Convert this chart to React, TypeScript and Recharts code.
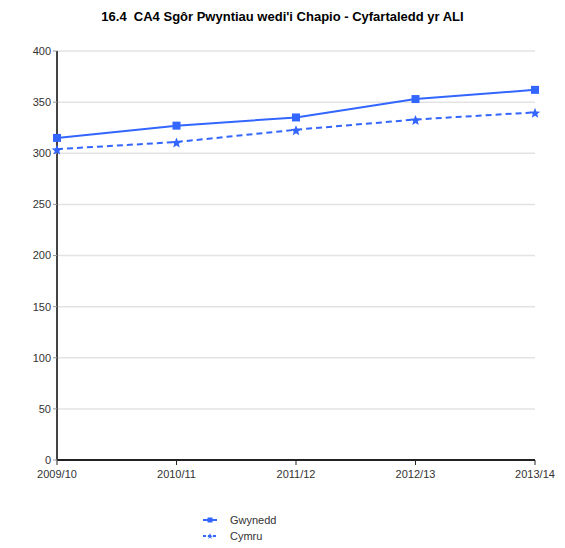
import { CartesianGrid, Legend, Line, LineChart, XAxis, YAxis } from "recharts";

const years = ["2009/10", "2010/11", "2011/12", "2012/13", "2013/14"];
const gwynedd = [315, 327, 335, 353, 362];
const cymru = [304, 311, 323, 333, 340];
const yTicks = [0, 50, 100, 150, 200, 250, 300, 350, 400];

const data = years.map((y, i) => ({ y, gwynedd: gwynedd[i], cymru: cymru[i] }));

const BLUE = "#3366ff";
const FONT = "'Liberation Sans', Arial, sans-serif";

const SquareDot = (p: any) => (
  <rect key={p.index} x={p.cx - 4} y={p.cy - 4} width={8} height={8} fill={BLUE} />
);

const StarDot = (p: any) => {
  const pts: string[] = [];
  for (let i = 0; i < 10; i++) {
    const r = i % 2 === 0 ? 5.5 : 2.4;
    const a = -Math.PI / 2 + (i * Math.PI) / 5;
    pts.push(`${p.cx + r * Math.cos(a)},${p.cy + 1 + r * Math.sin(a)}`);
  }
  return <polygon key={p.index} points={pts.join(" ")} fill={BLUE} />;
};

function LegendBox() {
  const rows = [
    { name: "Gwynedd", dashed: false },
    { name: "Cymru", dashed: true },
  ];
  return (
    <div style={{ fontFamily: FONT, fontSize: 11, color: "#333" }}>
      {rows.map((r) => (
        <div key={r.name} style={{ display: "flex", alignItems: "center", height: 16 }}>
          <svg width={30} height={10}>
            <line
              x1={3}
              x2={17}
              y1={5}
              y2={5}
              stroke={BLUE}
              strokeWidth={2}
              strokeDasharray={r.dashed ? "3 2" : undefined}
            />
            {r.dashed ? (
              <polygon points="10,2 11,4.5 13,5 11,6 12,8 10,6.5 8,8 9,6 7,5 9,4.5" fill={BLUE} />
            ) : (
              <rect x={7.5} y={2.5} width={5} height={5} fill={BLUE} />
            )}
          </svg>
          <span>{r.name}</span>
        </div>
      ))}
    </div>
  );
}

export default function App() {
  return (
    <div style={{ position: "absolute", left: 0, top: 0, width: 565, height: 548, background: "#fff" }}>
      <div
        style={{
          position: "absolute",
          left: 0,
          top: 9,
          width: 565,
          textAlign: "center",
          fontFamily: FONT,
          fontWeight: "bold",
          fontSize: 13,
          color: "#000",
        }}
      >
        16.4&nbsp; CA4 Sgôr Pwyntiau wedi'i Chapio - Cyfartaledd yr ALI
      </div>
      <LineChart width={565} height={548} data={data} margin={{ top: 51, right: 30, left: 0, bottom: 30 }}>
        <CartesianGrid stroke="#e3e3e3" strokeWidth={1.5} vertical={false} />
        <XAxis
          dataKey="y"
          height={24}
          tick={{ fill: "#333", fontSize: 11, fontFamily: FONT, dy: 3 }}
          axisLine={{ stroke: "#222", strokeWidth: 2 }}
          tickLine={{ stroke: "#222" }}
          tickSize={5}
          interval={0}
        />
        <YAxis
          width={57}
          domain={[0, 400]}
          ticks={yTicks}
          tick={{ fill: "#333", fontSize: 11, fontFamily: FONT }}
          axisLine={{ stroke: "#444", strokeWidth: 2 }}
          tickLine={{ stroke: "#999" }}
          tickSize={4}
        />
        <Legend
          layout="vertical"
          verticalAlign="bottom"
          align="center"
          content={() => <LegendBox />}
          wrapperStyle={{ top: 512, left: 200, width: 120, height: 34 }}
        />
        <Line
          dataKey="gwynedd"
          name="Gwynedd"
          stroke={BLUE}
          strokeWidth={2}
          dot={SquareDot}
          activeDot={false}
          isAnimationActive={false}
        />
        <Line
          dataKey="cymru"
          name="Cymru"
          stroke={BLUE}
          strokeWidth={2}
          strokeDasharray="6 4"
          dot={StarDot}
          activeDot={false}
          isAnimationActive={false}
        />
      </LineChart>
    </div>
  );
}
